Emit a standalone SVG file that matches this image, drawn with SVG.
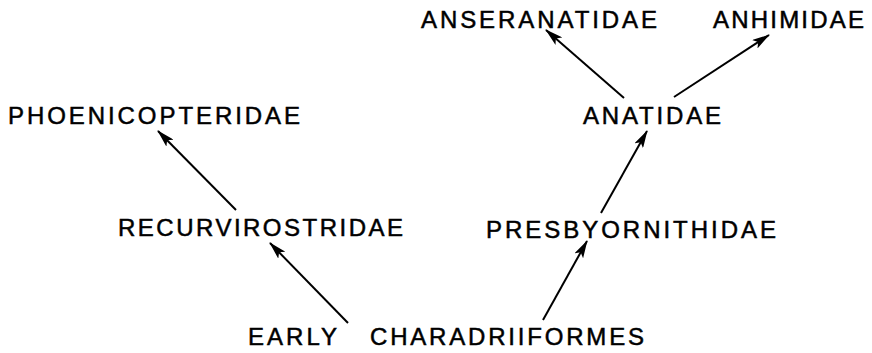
<svg xmlns="http://www.w3.org/2000/svg" width="872" height="353" viewBox="0 0 872 353">
<style>
text{font-family:"Liberation Sans",Arial,sans-serif;font-size:24px;fill:#000;stroke:#000;stroke-width:0.5}
.c line{stroke:#000;stroke-width:2;fill:none}
</style>
<defs>
<marker id="ah" viewBox="0 0 18 10" refX="17" refY="5" markerWidth="18" markerHeight="10" markerUnits="userSpaceOnUse" orient="auto">
<path d="M0,0 L18,5 L0,10 L4,5 Z" fill="#000"/>
</marker>
</defs>
<rect width="872" height="353" fill="#fff"/>
<g id="anseranatidae"><text x="421" y="28" textLength="236" lengthAdjust="spacing">ANSERANATIDAE</text></g>
<g id="anhimidae"><text x="713" y="28" textLength="151" lengthAdjust="spacing">ANHIMIDAE</text></g>
<g id="phoenicopteridae"><text x="8" y="124" textLength="292" lengthAdjust="spacing">PHOENICOPTERIDAE</text></g>
<g id="anatidae"><text x="583" y="124" textLength="138" lengthAdjust="spacing">ANATIDAE</text></g>
<g id="recurvirostridae"><text x="118" y="236" textLength="285" lengthAdjust="spacing">RECURVIROSTRIDAE</text></g>
<g id="presbyornithidae"><text x="486" y="238" textLength="290" lengthAdjust="spacing">PRESBYORNITHIDAE</text></g>
<g id="early-charadriiformes"><text x="248" y="345" textLength="89" lengthAdjust="spacing">EARLY</text><text x="370" y="345" textLength="274" lengthAdjust="spacing">CHARADRIIFORMES</text></g>
<g class="c" id="connectors">
<line x1="348" y1="323" x2="270" y2="243" marker-end="url(#ah)"/>
<line x1="236" y1="210" x2="158" y2="131" marker-end="url(#ah)"/>
<line x1="543" y1="320" x2="587" y2="241" marker-end="url(#ah)"/>
<line x1="601" y1="213" x2="647" y2="131" marker-end="url(#ah)"/>
<line x1="624" y1="98" x2="546" y2="30" marker-end="url(#ah)"/>
<line x1="674" y1="97" x2="769" y2="35" marker-end="url(#ah)"/>
</g>
</svg>
